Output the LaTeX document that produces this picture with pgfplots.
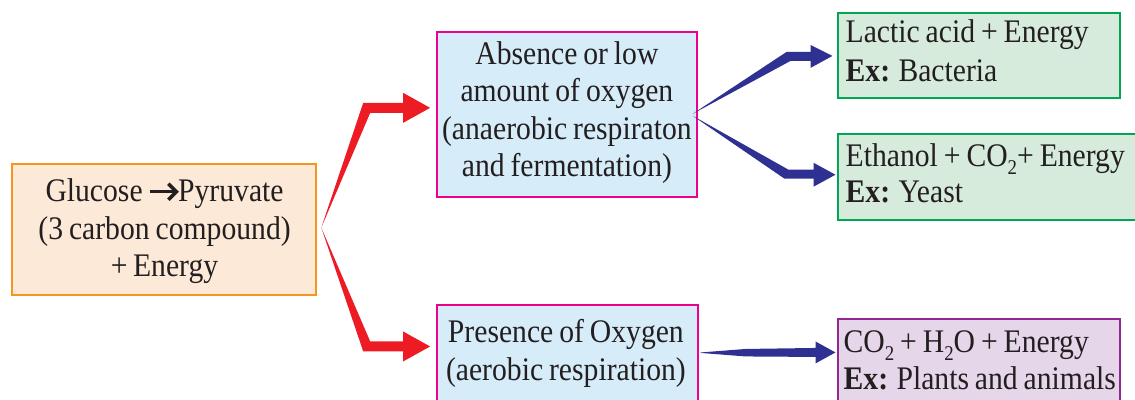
\documentclass[border=0pt]{standalone}
\usepackage{pgfplots}
\pgfplotsset{compat=1.18}
\usepackage{fontspec}
\setmainfont{Liberation Serif}[FakeStretch=0.9, WordSpace=0.8]
\definecolor{orfill}{HTML}{FDE9D8}
\definecolor{ordraw}{HTML}{F7941D}
\definecolor{blfill}{HTML}{D6EDF9}
\definecolor{bldraw}{HTML}{EC008C}
\definecolor{grfill}{HTML}{D7EBDC}
\definecolor{grdraw}{HTML}{00A651}
\definecolor{pufill}{HTML}{E6D6EA}
\definecolor{pudraw}{HTML}{92278F}
\definecolor{redarr}{HTML}{ED1C24}
\definecolor{bluarr}{HTML}{2E3192}
\definecolor{txt}{HTML}{231F20}
\tikzset{t/.style={font=\fontsize{33}{38}\selectfont, text=txt, inner sep=0pt}}
\newcommand\sub[1]{\raisebox{-8pt}{\fontsize{21}{21}\selectfont #1}}
\newsavebox\arrbox
\begin{document}
\sbox\arrbox{\tikz[baseline={(0,-10pt)}]{\draw[txt, line width=3.6pt] (0,0) -- (24pt,0); \draw[txt, line width=3.6pt, miter limit=10] (18pt,8pt) -- (26pt,0) -- (18pt,-8pt);}}
\begin{tikzpicture}
\begin{axis}[
  at={(0,0)}, anchor=south west,
  width=1135pt, height=400pt, scale only axis,
  xmin=0, xmax=1135, ymin=0, ymax=400, y dir=reverse,
  axis lines=none, clip=true,
]
% boxes
\draw[ordraw, fill=orfill, line width=2pt] (axis cs:10,164) rectangle (axis cs:315,295);
\draw[bldraw, fill=blfill, line width=2pt] (axis cs:436,32) rectangle (axis cs:696,197);
\draw[bldraw, fill=blfill, line width=2pt] (axis cs:436,305) rectangle (axis cs:697,420);
\draw[grdraw, fill=grfill, line width=2pt] (axis cs:838,13) rectangle (axis cs:1120,98);
\draw[grdraw, fill=grfill, line width=2pt] (axis cs:838,134) rectangle (axis cs:1150,220);
\draw[pudraw, fill=pufill, line width=2pt] (axis cs:838,319) rectangle (axis cs:1120,420);
% red arrows
\addplot[draw=none, fill=redarr] coordinates {(320,228) (362,103) (402,103) (402,93) (429,108) (402,123) (402,113) (369,113) (320,228)} -- cycle;
\addplot[draw=none, fill=redarr] coordinates {(320,228) (362,352) (402,352) (402,362) (429,347) (402,332) (402,342) (369,342) (320,228)} -- cycle;
% blue arrows
\addplot[draw=none, fill=bluarr] coordinates {(692,114) (786,52) (810,52) (810,45) (832,56) (810,68) (810,61) (790,61) (692,114)} -- cycle;
\addplot[draw=none, fill=bluarr] coordinates {(692,116) (788,170) (813,170) (813,163) (835,175) (813,187) (813,179) (784,179) (692,116)} -- cycle;
\addplot[draw=none, fill=bluarr] coordinates {(700,353) (745,349.5) (815,348.5) (815,342) (835,353) (815,364) (815,357.5) (745,357) (700,353.5)} -- cycle;
% orange text
\node[t, anchor=base] at (axis cs:163,202) {Glucose \usebox\arrbox Pyruvate};
\node[t, anchor=base] at (axis cs:163,240) {(3 carbon compound)};
\node[t, anchor=base] at (axis cs:163,277) {+\,Energy};
% blue top text
\node[t, anchor=base] at (axis cs:566,65) {Absence or low};
\node[t, anchor=base] at (axis cs:566,102) {amount of oxygen};
\node[t, anchor=base] at (axis cs:566,140) {(anaerobic respiraton};
\node[t, anchor=base] at (axis cs:566,177) {and fermentation)};
% blue bottom text
\node[t, anchor=base] at (axis cs:565,343) {Presence of Oxygen};
\node[t, anchor=base] at (axis cs:565,381) {(aerobic respiration)};
% green text
\node[t, anchor=base west] at (axis cs:845,43) {Lactic acid + Energy};
\node[t, anchor=base west] at (axis cs:845,82) {\textbf{Ex:} Bacteria};
\node[t, anchor=base west] at (axis cs:845,167) {Ethanol + CO\sub{2}+ Energy};
\node[t, anchor=base west] at (axis cs:845,203) {\textbf{Ex:} Yeast};
% purple text
\node[t, anchor=base west] at (axis cs:843,353) {CO\sub{2} + H\sub{2}O + Energy};
\node[t, anchor=base west] at (axis cs:843,390) {\textbf{Ex:} Plants and animals};
\end{axis}
\pgfresetboundingbox
\path (0,0) rectangle (1135pt,400pt);
\end{tikzpicture}
\end{document}
